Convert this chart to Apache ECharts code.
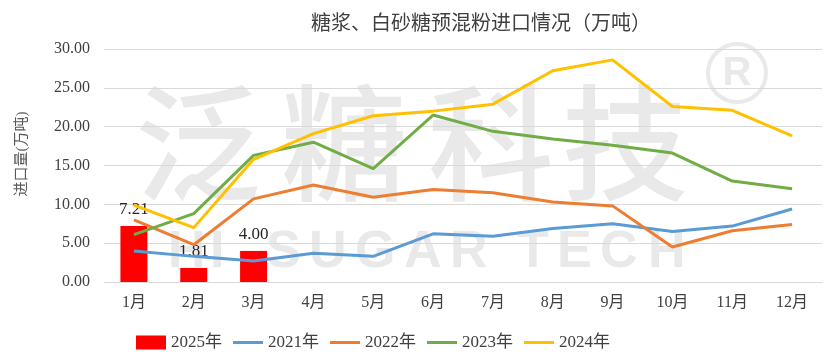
<!DOCTYPE html>
<html>
<head>
<meta charset="utf-8">
<script src="https://cdn.jsdelivr.net/npm/echarts@6/dist/echarts.min.js"></script>
<style>html,body{margin:0;padding:0;background:#fff}#c{width:831px;height:353px}</style>
</head>
<body>
<div id="c"></div>
<script>
const categories = ['1月','2月','3月','4月','5月','6月','7月','8月','9月','10月','11月','12月'];
const s2025 = [7.21, 1.81, 4.00];
const s2021 = [4.0, 3.3, 2.7, 3.7, 3.3, 6.2, 5.9, 6.9, 7.5, 6.5, 7.2, 9.4];
const s2022 = [8.0, 4.8, 10.7, 12.5, 10.9, 11.9, 11.5, 10.3, 9.8, 4.5, 6.6, 7.4];
const s2023 = [6.1, 8.8, 16.3, 18.0, 14.6, 21.5, 19.4, 18.4, 17.6, 16.6, 13.0, 12.0];
const s2024 = [9.9, 7.0, 15.8, 19.1, 21.4, 22.0, 22.9, 27.2, 28.6, 22.6, 22.1, 18.8];
const seriesNames = ['2025年','2021年','2022年','2023年','2024年'];

const FONT = "'Liberation Serif', 'Noto Sans CJK SC', serif";
const WM = '#e9e9e9';
const chart = echarts.init(document.getElementById('c'));

function lineSeries(name, data, color) {
  return {
    name, type: 'line', data, symbol: 'none', showSymbol: false, smooth: false,
    lineStyle: { color, width: 3 }, itemStyle: { color }, z: 3
  };
}

const wmChars = [['泛',135],['糖',281],['科',428],['技',562]];
const graphic = wmChars.map(([t, x]) => ({
  type: 'text', left: x, top: 80, z: 0, silent: true,
  style: { text: t, fontSize: 126, fontWeight: 500, fill: WM, fontFamily: "'Noto Sans CJK SC'" }
}));
const wmLetters = [['H',168],['I',210],['S',266],['U',309],['G',355],['A',404],['R',450],['T',517],['E',557],['C',600],['H',648]];
wmLetters.forEach(([t, x]) => graphic.push({
  type: 'text', left: x, top: 227, z: 0, silent: true,
  style: { text: t, fontSize: 52, fontWeight: 'bold', fill: WM, fontFamily: 'Liberation Sans' }
}));
graphic.push(
  { type: 'circle', z: 0, silent: true, shape: { cx: 737, cy: 73, r: 29 }, style: { fill: 'none', stroke: WM, lineWidth: 4 } },
  { type: 'text', z: 0, silent: true, x: 737, y: 74, style: { text: 'R', fontSize: 40, fontWeight: 'bold', fill: WM, fontFamily: 'Liberation Sans', align: 'center', verticalAlign: 'middle' } },
  { type: 'text', z: 5, silent: true, x: 22, y: 154, rotation: Math.PI / 2,
    style: { text: '进口量(万吨)', fontSize: 15, fill: '#595959', fontFamily: FONT, align: 'center', verticalAlign: 'middle' } }
);

const lineIcon = 'path://M0,0 L30,0 L30,3 L0,3 Z';

chart.setOption({
  animation: false,
  backgroundColor: '#fff',
  title: {
    text: '糖浆、白砂糖预混粉进口情况（万吨）',
    left: 306, top: 10,
    textStyle: { fontSize: 20, fontWeight: 'normal', color: '#404040', fontFamily: FONT }
  },
  graphic,
  legend: {
    data: seriesNames.map((n, i) => ({ name: n, icon: i === 0 ? 'rect' : lineIcon })),
    left: 131, top: 329,
    itemWidth: 30, itemHeight: 14, itemGap: 11,
    textStyle: { fontSize: 17, color: '#404040', fontFamily: FONT }
  },
  grid: { left: 104, right: 9, top: 49, bottom: 71 },
  xAxis: {
    type: 'category', data: categories,
    axisLine: { show: true, lineStyle: { color: '#d9d9d9', width: 1 } },
    axisTick: { show: false },
    axisLabel: { fontSize: 16, color: '#404040', margin: 13, fontFamily: FONT }
  },
  yAxis: {
    type: 'value', min: 0, max: 30, interval: 5,
    axisLine: { show: false }, axisTick: { show: false },
    axisLabel: { fontSize: 16, color: '#404040', margin: 14, fontFamily: FONT, formatter: v => v.toFixed(2) },
    splitLine: { lineStyle: { color: '#d9d9d9', width: 1 } }
  },
  series: [
    {
      name: '2025年', type: 'bar', data: s2025, barWidth: 27,
      itemStyle: { color: '#ff0000' }, z: 2,
      label: { show: true, position: 'top', distance: 8, fontSize: 17, color: '#262626', fontFamily: FONT, formatter: p => p.value.toFixed(2) }
    },
    lineSeries('2021年', s2021, '#5b9bd5'),
    lineSeries('2022年', s2022, '#ed7d31'),
    lineSeries('2023年', s2023, '#70ad47'),
    lineSeries('2024年', s2024, '#ffc000')
  ]
});
</script>
</body>
</html>
